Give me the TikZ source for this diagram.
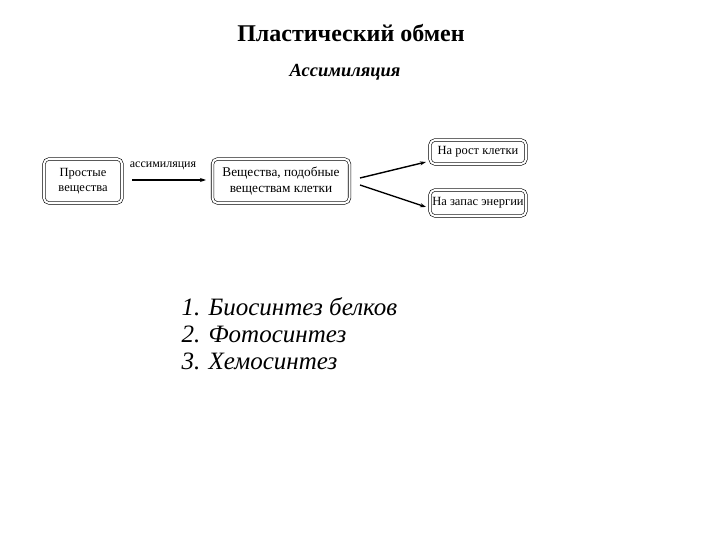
\documentclass[tikz,border=0pt]{standalone}
\usepackage{fontspec}
\setmainfont{Liberation Serif}
\usetikzlibrary{arrows.meta}
\begin{document}
\begin{tikzpicture}[x=1pt,y=-1pt,
  dbox/.style={draw=black, double, double distance=2pt, line width=0.6pt, rounded corners=5pt, inner sep=0pt, font=\fontsize{12.5}{15}\selectfont, align=center},
  arr/.style={line width=1.4pt, -{Stealth[length=6pt,width=4pt]}}]
\useasboundingbox (0,0) rectangle (720,540);
\fill[white] (0,0) rectangle (720,540);
\node[font=\fontsize{24}{28}\bfseries\selectfont] (title) at (351,33) {Пластический обмен};
\node[font=\fontsize{18.5}{22}\bfseries\itshape\selectfont] (sub) at (345,72) {Ассимиляция};
\node[dbox, minimum width=78pt, minimum height=44pt] (b1) at (83,181) {Простые\\вещества};
\node[dbox, minimum width=137pt, minimum height=44pt, font=\fontsize{13.3}{16}\selectfont] (b2) at (281,181) {Вещества, подобные\\веществам клетки};
\node[dbox, minimum width=96pt, minimum height=24pt] (b3) at (478,152) {На рост клетки};
\node[dbox, minimum width=96pt, minimum height=26pt] (b4) at (478,203) {На запас энергии};
\node[font=\fontsize{12}{14}\selectfont] (lab) at (163,166) {ассимиляция};
\coordinate (a1s) at (132,180);
\coordinate (a1e) at (206,180);
\draw[arr] (a1s) -- (a1e);
\coordinate (a2s) at (360,178);
\coordinate (a2e) at (426,162);
\coordinate (a3s) at (360,185);
\coordinate (a3e) at (426,207);
\draw[arr] (a2s) -- (a2e);
\draw[arr] (a3s) -- (a3e);
\node[font=\fontsize{25}{27}\itshape\selectfont, align=left, anchor=north west] (list) at (178,294) {1. Биосинтез белков\\2. Фотосинтез\\3. Хемосинтез};
\end{tikzpicture}
\end{document}
